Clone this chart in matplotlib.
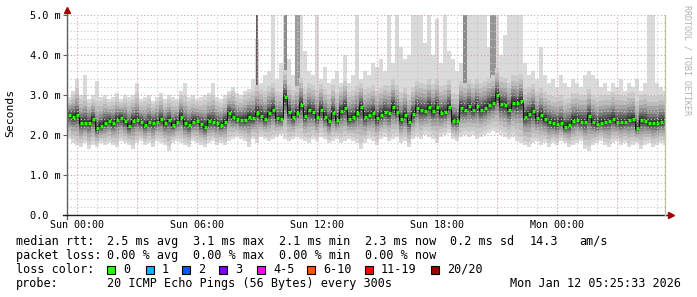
import numpy as np
import matplotlib
matplotlib.use('Agg')
import matplotlib.pyplot as plt
from matplotlib.patches import Rectangle
from matplotlib.lines import Line2D
from matplotlib.ticker import FixedLocator, FuncFormatter

# ── data: one sample every 12 min, starting Sat 23:30 ────
STEP_H = 0.2
T0_H = -0.5

median_ms = [
    2.50, 2.46, 2.49, 2.31, 2.31, 2.31, 2.41, 2.17, 2.22, 2.31,
    2.36, 2.29, 2.38, 2.43, 2.35, 2.22, 2.36, 2.38, 2.32, 2.25,
    2.32, 2.30, 2.33, 2.39, 2.29, 2.38, 2.25, 2.33, 2.46, 2.29,
    2.25, 2.33, 2.36, 2.27, 2.21, 2.35, 2.33, 2.31, 2.25, 2.33,
    2.56, 2.46, 2.40, 2.38, 2.38, 2.46, 2.42, 2.56, 2.48, 2.41,
    2.54, 2.63, 2.42, 2.40, 2.95, 2.58, 2.44, 2.54, 2.75, 2.48,
    2.63, 2.58, 2.44, 2.63, 2.46, 2.35, 2.56, 2.38, 2.60, 2.67,
    2.40, 2.44, 2.54, 2.71, 2.46, 2.50, 2.56, 2.42, 2.50, 2.58,
    2.54, 2.71, 2.58, 2.39, 2.50, 2.33, 2.52, 2.67, 2.63, 2.60,
    2.71, 2.60, 2.71, 2.54, 2.58, 2.70, 2.36, 2.35, 2.67, 2.63,
    2.73, 2.63, 2.73, 2.63, 2.67, 2.75, 2.81, 3.00, 2.77, 2.75,
    2.63, 2.81, 2.79, 2.85, 2.46, 2.52, 2.60, 2.42, 2.50, 2.39,
    2.33, 2.29, 2.27, 2.31, 2.21, 2.25, 2.36, 2.38, 2.33, 2.33,
    2.48, 2.33, 2.27, 2.31, 2.33, 2.36, 2.40, 2.33, 2.33, 2.33,
    2.38, 2.39, 2.18, 2.38, 2.35, 2.29, 2.29, 2.29, 2.33, 2.35,
]

# highest ping per sample (5.3 = beyond the top of the graph)
max_ms = [
    2.95, 3.10, 3.40, 3.00, 3.50, 2.90, 3.00, 3.35, 2.95, 3.00,
    2.90, 2.95, 3.05, 2.90, 3.00, 2.95, 3.00, 3.30, 2.90, 2.95,
    3.00, 2.85, 2.95, 3.05, 2.90, 3.00, 2.95, 2.90, 3.10, 3.30,
    2.95, 3.00, 2.90, 2.95, 3.00, 3.05, 3.30, 2.95, 2.90, 3.00,
    3.10, 3.20, 3.05, 3.00, 3.10, 3.15, 3.40, 4.40, 3.30, 3.50,
    3.60, 5.30, 3.40, 3.80, 5.30, 3.90, 3.50, 5.30, 5.30, 4.10,
    3.60, 3.50, 5.30, 3.40, 3.70, 3.30, 3.40, 3.60, 3.30, 4.00,
    3.30, 3.50, 5.30, 3.40, 3.60, 3.50, 3.80, 3.70, 3.90, 3.60,
    5.30, 3.80, 5.30, 4.20, 3.90, 4.00, 5.30, 5.30, 5.30, 4.30,
    5.30, 4.00, 4.90, 3.80, 5.30, 4.10, 3.90, 3.60, 3.80, 5.30,
    5.30, 5.30, 5.30, 5.30, 5.30, 4.20, 5.30, 5.30, 4.00, 4.50,
    5.30, 5.30, 5.30, 5.30, 3.80, 3.50, 3.60, 3.40, 4.20, 3.50,
    3.30, 3.40, 3.20, 3.50, 3.30, 3.20, 3.40, 3.30, 3.20, 3.50,
    3.60, 3.50, 3.40, 3.20, 3.30, 3.10, 3.30, 3.20, 3.40, 3.10,
    3.30, 3.20, 3.40, 3.10, 3.30, 5.30, 5.30, 3.30, 3.20, 3.10,
]

# lowest ping per sample
min_ms = [
    1.90, 1.80, 1.75, 1.70, 1.80, 1.65, 1.75, 1.70, 1.80, 1.75,
    1.80, 1.75, 1.70, 1.85, 1.80, 1.75, 1.65, 1.80, 1.85, 1.75,
    1.80, 1.70, 1.85, 1.80, 1.75, 1.60, 1.80, 1.85, 1.80, 1.75,
    1.70, 1.85, 1.80, 1.75, 1.70, 1.80, 1.85, 1.75, 1.80, 1.75,
    1.85, 1.90, 1.95, 1.90, 1.85, 1.70, 1.90, 1.80, 1.95, 1.90,
    1.85, 1.90, 1.95, 2.00, 1.90, 1.85, 1.90, 1.95, 1.90, 1.85,
    1.80, 1.90, 1.85, 1.95, 1.90, 1.80, 1.85, 1.90, 1.80, 1.85,
    1.90, 1.85, 1.80, 1.65, 1.80, 1.90, 1.85, 1.75, 1.90, 1.95,
    1.85, 1.90, 1.95, 1.80, 1.85, 1.70, 1.90, 1.95, 1.90, 2.00,
    1.95, 1.90, 1.80, 1.95, 2.00, 2.05, 1.90, 1.85, 1.95, 2.00,
    1.95, 2.00, 1.90, 1.95, 2.00, 2.05, 2.10, 2.05, 2.00, 1.95,
    1.90, 1.95, 1.85, 1.80, 1.75, 1.70, 1.80, 1.85, 1.75, 1.80,
    1.70, 1.80, 1.75, 1.85, 1.80, 1.70, 1.75, 1.80, 1.85, 1.65,
    1.60, 1.75, 1.80, 1.85, 1.75, 1.70, 1.80, 1.85, 1.75, 1.80,
    1.70, 1.75, 1.80, 1.65, 1.75, 1.80, 1.70, 1.75, 1.80, 1.75,
]

# samples where many pings went high (darker columns)
burst_idx = [47, 54, 57, 99, 106]
burst_top = [5.3, 5.3, 5.3, 5.3, 5.3]
burst_width = [0.06, 0.15, 0.25, 0.22, 0.28]
burst_color = ['#606060', '#8c8c8c', '#9a9a9a', '#8c8c8c', '#959595']

y_ticks = [0, 1, 2, 3, 4, 5]
y_tick_labels = ['0.0  ', '1.0 m', '2.0 m', '3.0 m', '4.0 m', '5.0 m']
x_label_hours = [0, 6, 12, 18, 24]
x_tick_labels = ['Sun 00:00', 'Sun 06:00', 'Sun 12:00', 'Sun 18:00', 'Mon 00:00']

loss_labels = ['0', '1', '2', '3', '4-5', '6-10', '11-19', '20/20']
loss_colors = ['#26ff00', '#00b8ff', '#0059ff', '#7e00ff',
               '#ff00ff', '#ff5500', '#ff0000', '#a10000']

stats_rtt = ['2.5 ms avg', '3.1 ms max', '2.1 ms min', '2.3 ms now', '0.2 ms sd', '14.3', 'am/s']
stats_loss = ['0.00 % avg', '0.00 % max', '0.00 % min', '0.00 % now']

# ── layout (pixel based, 697 x 297) ─────────────────────────────────────────
W, H = 697, 297
X_LEFT, X_RIGHT, Y_TOP, Y_BOT = 67, 665, 15, 215
MONO = 'DejaVu Sans Mono'


def fx(px):
    return px / W


def fy(py):
    return 1 - py / H


med = np.array(median_ms)
hi = np.array(max_ms)
lo = np.array(min_ms)
t = T0_H + STEP_H * np.arange(len(med))

fig = plt.figure(figsize=(W / 100, H / 100), dpi=100)
ax = fig.add_axes([fx(X_LEFT), fy(Y_BOT), (X_RIGHT - X_LEFT) / W, (Y_BOT - Y_TOP) / H])
ax.set_xlim(-0.5, 29.4)
ax.set_ylim(0, 5.0)

# smoke: outer band from min to max, then darker bands closer to the median
ax.bar(t, hi - lo, bottom=lo, width=STEP_H, align='edge', color='#dadada', lw=0, zorder=1)
for i, top, w, c in zip(burst_idx, burst_top, burst_width, burst_color):
    ax.bar(t[i] + (STEP_H - w) / 2, top - med[i], bottom=med[i], width=w,
           align='edge', color=c, lw=0, zorder=1.1)

up_span = np.minimum(hi - med, 0.8)
dn_span = med - lo
fracs = [0.85, 0.68, 0.53, 0.41, 0.3, 0.21, 0.13, 0.06]
shades = ['#cbcbcb', '#bababa', '#a6a6a6', '#919191', '#787878', '#5e5e5e', '#444444', '#2a2a2a']
for k, (f, c) in enumerate(zip(fracs, shades)):
    top = med + f * up_span
    bot = med - f * dn_span
    ax.bar(t, top - bot, bottom=bot, width=STEP_H, align='edge', color=c, lw=0, zorder=1.2 + k * 0.1)

# median line
ax.step(np.append(t, t[-1] + STEP_H), np.append(med, med[-1]), where='post',
        color='#101010', lw=0.7, zorder=2.8)
ax.hlines(med, t + 0.03, t + STEP_H, color=loss_colors[0], lw=2.4, zorder=3)

# grid
ax.set_axisbelow(False)
ax.xaxis.set_major_locator(FixedLocator(np.arange(0, 30, 3)))
ax.xaxis.set_minor_locator(FixedLocator(np.arange(0, 30, 1)))
ax.yaxis.set_major_locator(FixedLocator(y_ticks))
ax.yaxis.set_minor_locator(FixedLocator(np.arange(0, 5.01, 0.2)))
ax.grid(which='major', color='#e09a9a', linestyle=(0, (1, 2)), lw=0.8)
ax.grid(which='minor', color='#c8c8c8', linestyle=(0, (1, 2)), lw=0.8)

x_lab = dict(zip(x_label_hours, x_tick_labels))
ax.xaxis.set_major_formatter(FuncFormatter(lambda v, p: x_lab.get(int(round(v)), '')))
ax.set_yticklabels(y_tick_labels)
ax.tick_params(axis='x', which='both', length=0, pad=3.5, labelsize=7.2, labelcolor='black')
ax.tick_params(axis='y', which='major', length=3, width=0.8, color='#606060', pad=1.5,
               labelsize=7.4, labelcolor='black')
ax.tick_params(axis='y', which='minor', length=0)
for lab in ax.get_xticklabels() + ax.get_yticklabels():
    lab.set_family(MONO)

for s in ['top', 'right', 'left', 'bottom']:
    ax.spines[s].set_visible(False)

# axes with arrow heads
fig.add_artist(Line2D([fx(X_LEFT), fx(X_LEFT)], [fy(Y_BOT + 4), fy(11)], color='#606060', lw=1))
fig.add_artist(Line2D([fx(X_LEFT - 4), fx(668)], [fy(Y_BOT), fy(Y_BOT)], color='#202020', lw=1))
fig.add_artist(Line2D([fx(X_RIGHT), fx(X_RIGHT)], [fy(Y_BOT), fy(Y_TOP)], color='#c4c4ac', lw=1))
fig.add_artist(Line2D([fx(X_LEFT)], [fy(10)], marker='^', ms=4, color='#a00000', lw=0))
fig.add_artist(Line2D([fx(671)], [fy(Y_BOT)], marker='>', ms=4, color='#a00000', lw=0))

fig.text(fx(10), fy(113), 'Seconds', rotation=90, ha='center', va='center',
         family=MONO, fontsize=8.2)
fig.text(fx(687), fy(5), 'RRDTOOL / TOBI OETIKER', rotation=270, ha='center', va='top',
         family=MONO, fontsize=6.0, color='#b0b0b0')

# ── legend block ─────────────────────────────────────────────────────────────
FS = 8.5
COLS = [107, 193, 279, 365, 450, 530, 579]
ROW = [241.5, 255.5, 269.5, 283.5]

fig.text(fx(16), fy(ROW[0]), 'median rtt:', family=MONO, fontsize=FS, va='center')
for x, s in zip(COLS, stats_rtt):
    fig.text(fx(x), fy(ROW[0]), s, family=MONO, fontsize=FS, va='center')

fig.text(fx(16), fy(ROW[1]), 'packet loss:', family=MONO, fontsize=FS, va='center')
for x, s in zip(COLS, stats_loss):
    fig.text(fx(x), fy(ROW[1]), s, family=MONO, fontsize=FS, va='center')

fig.text(fx(16), fy(ROW[2]), 'loss color:', family=MONO, fontsize=FS, va='center')
box_x = [107, 146, 182, 219, 257, 307, 365, 431]
for x, lab, c in zip(box_x, loss_labels, loss_colors):
    fig.add_artist(Rectangle((fx(x), fy(ROW[2] + 4)), 8 / W, 8 / H,
                             transform=fig.transFigure, facecolor=c,
                             edgecolor='black', lw=0.8))
    fig.text(fx(x + 16), fy(ROW[2]), lab, family=MONO, fontsize=FS, va='center')

fig.text(fx(16), fy(ROW[3]), 'probe:', family=MONO, fontsize=FS, va='center')
fig.text(fx(107), fy(ROW[3]), '20 ICMP Echo Pings (56 Bytes) every 300s',
         family=MONO, fontsize=FS, va='center')
fig.text(fx(681), fy(ROW[3]), 'Mon Jan 12 05:25:33 2026', family=MONO, fontsize=FS,
         va='center', ha='right')

fig.savefig('out.png', dpi=100, facecolor='white')
